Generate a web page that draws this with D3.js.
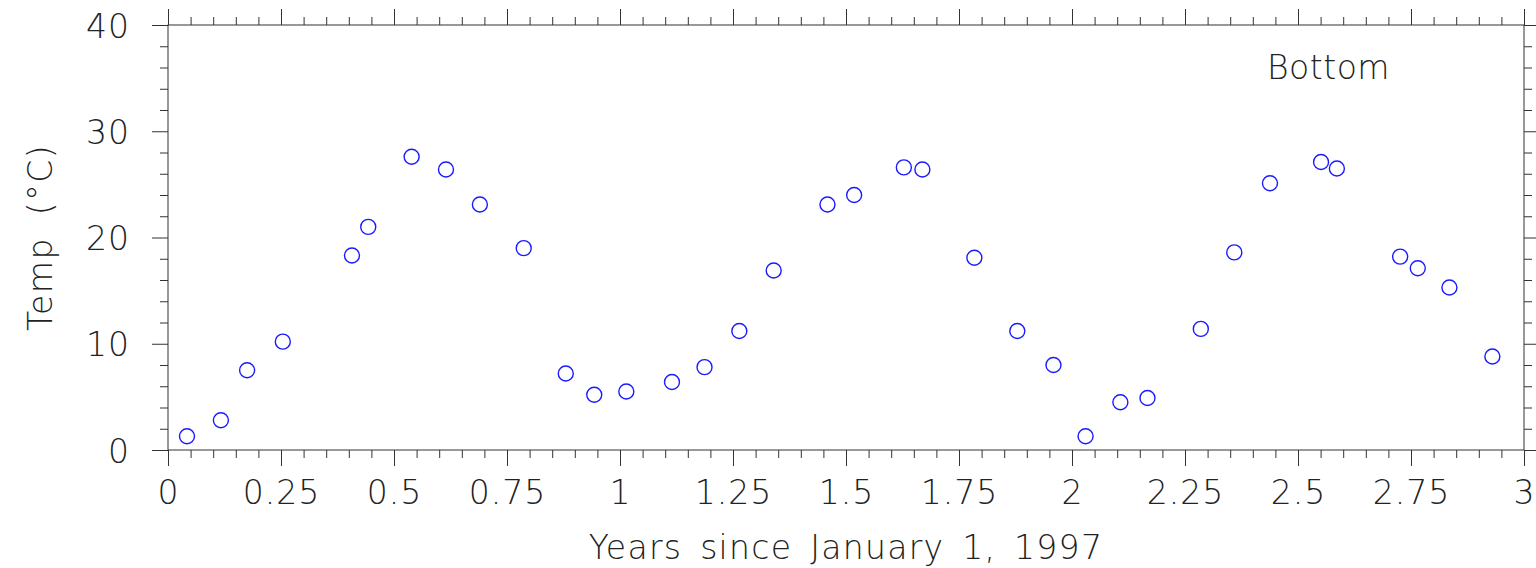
<!DOCTYPE html>
<html>
<head>
<meta charset="utf-8">
<script src="https://cdn.jsdelivr.net/npm/d3@7"></script>
<style>
  html, body { margin: 0; padding: 0; background: #fff; }
  svg { display: block; }
  text { font-family: "DejaVu Sans", "Liberation Sans", sans-serif; font-weight: 200; fill: #222; }
</style>
</head>
<body>
<svg id="chart" width="1536" height="568"></svg>
<script>
// ---- data ----
const years = [0.042, 0.117, 0.175, 0.254, 0.407, 0.443, 0.539, 0.615, 0.690, 0.787,
               0.880, 0.943, 1.014, 1.115, 1.187, 1.264, 1.340, 1.459, 1.518, 1.628,
               1.669, 1.784, 1.879, 1.959, 2.030, 2.107, 2.167, 2.285, 2.359, 2.438,
               2.551, 2.586, 2.726, 2.765, 2.835, 2.930];
const temps = [1.3, 2.8, 7.5, 10.2, 18.3, 21.0, 27.6, 26.4, 23.1, 19.0,
               7.2, 5.2, 5.5, 6.4, 7.8, 11.2, 16.9, 23.1, 24.0, 26.6,
               26.4, 18.1, 11.2, 8.0, 1.3, 4.5, 4.9, 11.4, 18.6, 25.1,
               27.1, 26.5, 18.2, 17.1, 15.3, 8.8];
const xMajorTicks = [0, 0.25, 0.5, 0.75, 1, 1.25, 1.5, 1.75, 2, 2.25, 2.5, 2.75, 3];
const xTickLabels = ["0", "0.25", "0.5", "0.75", "1", "1.25", "1.5", "1.75", "2", "2.25", "2.5", "2.75", "3"];
const yMajorTicks = [0, 10, 20, 30, 40];
const yTickLabels = ["0", "10", "20", "30", "40"];
const xTitle = "Years since January 1, 1997";
const yTitle = "Temp (°C)";
const panelLabel = "Bottom";

// ---- layout ----
const L = 168, R = 1524, T = 25, B = 450;
const svg = d3.select("#chart");
const x = d3.scaleLinear().domain([0, 3]).range([L, R]);
const y = d3.scaleLinear().domain([0, 40]).range([B, T]);

const xMinor = d3.range(0, 61).map(i => i * 0.05).filter(v => Math.abs(v / 0.25 - Math.round(v / 0.25)) > 1e-6);
const yMinor = d3.range(0, 21).map(i => i * 2).filter(v => v % 10 !== 0);

const axisColor = "#333";
function style(g) {
  g.select(".domain").remove();
  g.selectAll("line").attr("stroke", axisColor).attr("stroke-width", 1);
}

// bottom
svg.append("g").attr("transform", `translate(0,${B})`)
  .call(d3.axisBottom(x).tickValues(xMinor).tickSize(8).tickFormat(""))
  .call(style);
const xb = svg.append("g").attr("transform", `translate(0,${B})`)
  .call(d3.axisBottom(x).tickValues(xMajorTicks).tickSize(16).tickFormat((d, i) => xTickLabels[i]))
  .call(style);
xb.selectAll("text").attr("y", 54).attr("dy", 0)
  .style("font-size", "33px").style("letter-spacing", "1px")
  .attr("fill", "#222").attr("font-family", null).attr("font-size", null);

// top
svg.append("g").attr("transform", `translate(0,${T})`)
  .call(d3.axisTop(x).tickValues(xMinor).tickSize(8).tickFormat(""))
  .call(style);
svg.append("g").attr("transform", `translate(0,${T})`)
  .call(d3.axisTop(x).tickValues(xMajorTicks).tickSize(16).tickFormat(""))
  .call(style);

// left
svg.append("g").attr("transform", `translate(${L},0)`)
  .call(d3.axisLeft(y).tickValues(yMinor).tickSize(8).tickFormat(""))
  .call(style);
const yl = svg.append("g").attr("transform", `translate(${L},0)`)
  .call(d3.axisLeft(y).tickValues(yMajorTicks).tickSize(16).tickFormat((d, i) => yTickLabels[i]))
  .call(style);
yl.selectAll("text").attr("x", -38).attr("dy", 12)
  .style("font-size", "33px").style("letter-spacing", "1px")
  .attr("fill", "#222").attr("font-family", null).attr("font-size", null);

// right
svg.append("g").attr("transform", `translate(${R},0)`)
  .call(d3.axisRight(y).tickValues(yMinor).tickSize(8).tickFormat(""))
  .call(style);
svg.append("g").attr("transform", `translate(${R},0)`)
  .call(d3.axisRight(y).tickValues(yMajorTicks).tickSize(16).tickFormat(""))
  .call(style);

// frame
svg.append("rect").attr("x", L).attr("y", T).attr("width", R - L).attr("height", B - T)
  .attr("fill", "none").attr("stroke", axisColor).attr("stroke-width", 1);

// points
svg.append("g").selectAll("circle").data(years).join("circle")
  .attr("cx", (d) => x(d))
  .attr("cy", (d, i) => y(temps[i]))
  .attr("r", 7.5)
  .attr("fill", "none")
  .attr("stroke", "#1a1aff")
  .attr("stroke-width", 1.4);

// titles
svg.append("text").attr("x", (L + R) / 2).attr("y", 559).attr("text-anchor", "middle")
  .style("font-size", "33px").style("letter-spacing", "1.3px").style("word-spacing", "6px").text(xTitle);
svg.append("text").attr("transform", `translate(52,${(T + B) / 2}) rotate(-90)`)
  .attr("text-anchor", "middle")
  .style("font-size", "33px").style("letter-spacing", "1.5px").style("word-spacing", "10px").text(yTitle);
svg.append("text").attr("x", 1267).attr("y", 79)
  .style("font-size", "33px").style("letter-spacing", "0.5px").text(panelLabel);
</script>
</body>
</html>
